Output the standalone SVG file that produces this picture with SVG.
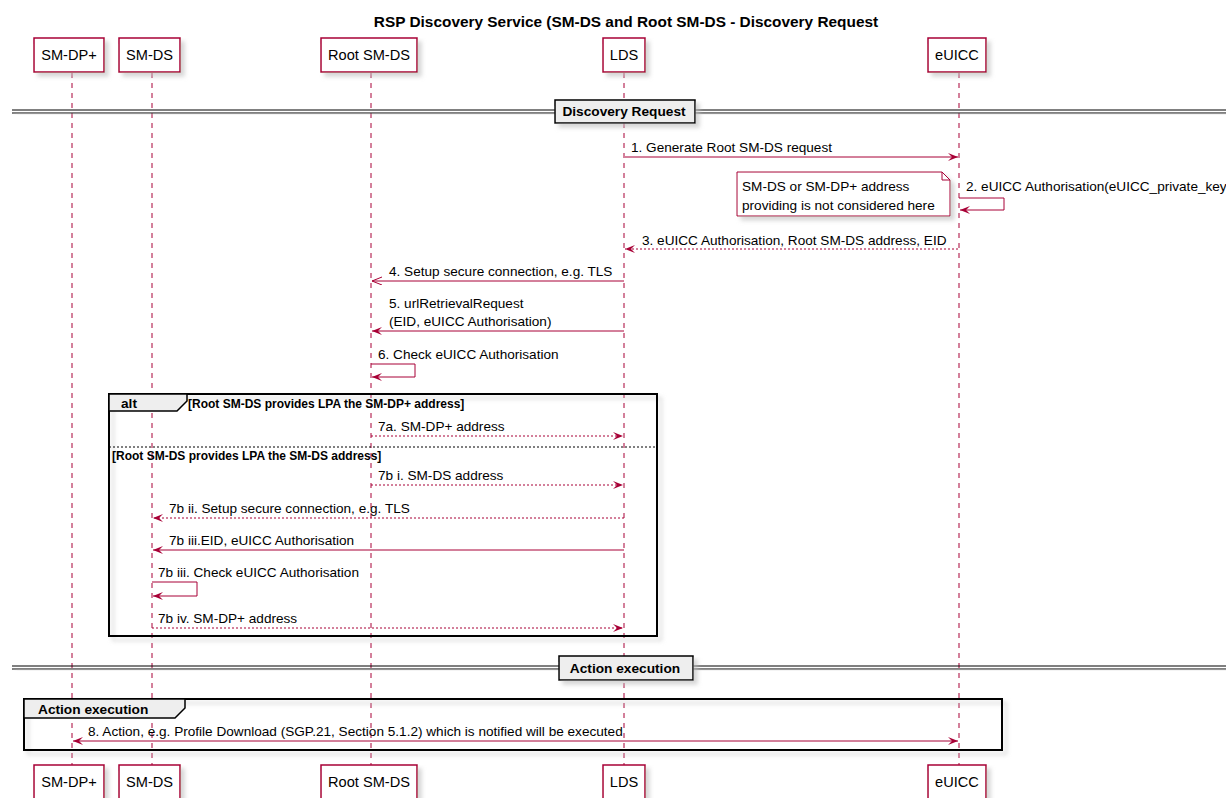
<svg xmlns="http://www.w3.org/2000/svg" width="1226" height="798" viewBox="0 0 1226 798">
<style>
text{font-family:"Liberation Sans",Arial,sans-serif;fill:#000}
.title{font-size:15.4px;font-weight:bold}
.pt{font-size:14.6px}
.msg{font-size:13.6px}
.b13{font-size:13.7px;font-weight:bold}
.b11{font-size:12px;font-weight:bold}
.pbox{fill:#fff;stroke:#A80036;stroke-width:1.5}
.life{stroke:#A80036;stroke-width:1;stroke-dasharray:5,5}
.sol{stroke:#A80036;stroke-width:1;fill:none}
.dash{stroke:#A80036;stroke-width:1;fill:none;stroke-dasharray:2,2}
.frame{fill:none;stroke:#000;stroke-width:2}
.tab{fill:#EEEEEE;stroke:#000;stroke-width:1.5}
.dl{stroke:#000;stroke-width:1}
</style>
<defs>
<filter id="sh" x="-10%" y="-10%" width="130%" height="150%">
<feGaussianBlur in="SourceAlpha" stdDeviation="2"/>
<feOffset dx="4" dy="4" result="b"/>
<feColorMatrix in="b" type="matrix" values="0 0 0 0 0.5 0 0 0 0 0.5 0 0 0 0 0.5 0 0 0 0.6 0"/>
<feMerge><feMergeNode/><feMergeNode in="SourceGraphic"/></feMerge>
</filter>
<marker id="a" markerUnits="userSpaceOnUse" markerWidth="12" markerHeight="10" refX="10" refY="4" orient="auto-start-reverse">
<path d="M0,0 L10,4 L0,8 L4,4 Z" fill="#A80036"/>
</marker>
<marker id="o" markerUnits="userSpaceOnUse" markerWidth="12" markerHeight="10" refX="10" refY="4" orient="auto">
<path d="M0,0 L10,4 L0,8" fill="none" stroke="#A80036" stroke-width="1"/>
</marker>
</defs>
<rect width="1226" height="798" fill="#fff"/>
<text class="title" x="626" y="27" text-anchor="middle">RSP Discovery Service (SM-DS and Root SM-DS - Discovery Request</text>

<g id="lifelines">
<line class="life" x1="72" y1="73" x2="72" y2="765"/>
<line class="life" x1="152" y1="73" x2="152" y2="765"/>
<line class="life" x1="371" y1="73" x2="371" y2="765"/>
<line class="life" x1="624" y1="73" x2="624" y2="765"/>
<line class="life" x1="959" y1="73" x2="959" y2="765"/>
</g>

<g id="SM-DP">
<rect class="pbox" x="34" y="38" width="70" height="34" filter="url(#sh)"/>
<text class="pt" x="69" y="60" text-anchor="middle">SM-DP+</text>
<rect class="pbox" x="34" y="765" width="70" height="34" filter="url(#sh)"/>
<text class="pt" x="69" y="787" text-anchor="middle">SM-DP+</text>
</g>
<g id="SM-DS">
<rect class="pbox" x="119" y="38" width="61" height="34" filter="url(#sh)"/>
<text class="pt" x="149.5" y="60" text-anchor="middle">SM-DS</text>
<rect class="pbox" x="119" y="765" width="61" height="34" filter="url(#sh)"/>
<text class="pt" x="149.5" y="787" text-anchor="middle">SM-DS</text>
</g>
<g id="RootSM-DS">
<rect class="pbox" x="321" y="38" width="96" height="34" filter="url(#sh)"/>
<text class="pt" x="369" y="60" text-anchor="middle">Root SM-DS</text>
<rect class="pbox" x="321" y="765" width="96" height="34" filter="url(#sh)"/>
<text class="pt" x="369" y="787" text-anchor="middle">Root SM-DS</text>
</g>
<g id="LDS">
<rect class="pbox" x="603" y="38" width="42" height="34" filter="url(#sh)"/>
<text class="pt" x="624" y="60" text-anchor="middle">LDS</text>
<rect class="pbox" x="603" y="765" width="42" height="34" filter="url(#sh)"/>
<text class="pt" x="624" y="787" text-anchor="middle">LDS</text>
</g>
<g id="eUICC">
<rect class="pbox" x="928" y="38" width="58" height="34" filter="url(#sh)"/>
<text class="pt" x="957" y="60" text-anchor="middle">eUICC</text>
<rect class="pbox" x="928" y="765" width="58" height="34" filter="url(#sh)"/>
<text class="pt" x="957" y="787" text-anchor="middle">eUICC</text>
</g>

<g id="divider-discovery">
<g filter="url(#sh)">
<line class="dl" x1="12" y1="110" x2="1226" y2="110"/>
<line class="dl" x1="12" y1="113" x2="1226" y2="113"/>
</g>
<rect class="tab" x="555" y="100" width="140" height="23" filter="url(#sh)"/>
<text class="b13" x="624" y="116" text-anchor="middle">Discovery Request</text>
</g>

<g id="note">
<path d="M737,172 H942 L950,180 V216 H737 Z" fill="#fff" stroke="#A80036" stroke-width="1" filter="url(#sh)"/>
<path d="M942,172 V180 H950" fill="none" stroke="#A80036" stroke-width="1"/>
<text class="msg" x="742" y="191">SM-DS or SM-DP+ address</text>
<text class="msg" x="742" y="210">providing is not considered here</text>
</g>

<g id="alt">
<rect class="frame" x="109" y="394" width="548" height="242" filter="url(#sh)"/>
<path class="tab" d="M109,394 H187 V401 L177,411 H109 Z"/>
<text class="b13" x="121" y="408">alt</text>
<text class="b11" x="188" y="408">[Root SM-DS provides LPA the SM-DP+ address]</text>
<line x1="109" y1="447" x2="657" y2="447" stroke="#000" stroke-width="1" stroke-dasharray="2,2"/>
<text class="b11" x="112" y="460">[Root SM-DS provides LPA the SM-DS address]</text>
</g>

<g id="divider-action">
<g filter="url(#sh)">
<line class="dl" x1="12" y1="666" x2="1226" y2="666"/>
<line class="dl" x1="12" y1="669" x2="1226" y2="669"/>
</g>
<rect class="tab" x="559" y="656" width="134" height="24" filter="url(#sh)"/>
<text class="b13" x="625" y="673" text-anchor="middle">Action execution</text>
</g>

<g id="group-action">
<rect class="frame" x="24" y="699" width="978" height="51" filter="url(#sh)"/>
<path class="tab" d="M24,699 H185 V708 L175,718 H24 Z"/>
<text class="b13" x="38" y="714">Action execution</text>
</g>

<g id="connectors">
<line class="sol" x1="625" y1="157" x2="958" y2="157" marker-end="url(#a)"/>
<text class="msg" x="631" y="152">1. Generate Root SM-DS request</text>

<path class="sol" d="M959,198 H1004 V210 H960" marker-end="url(#a)"/>
<text class="msg" x="966" y="191">2. eUICC Authorisation(eUICC_private_key</text>

<line class="dash" x1="958" y1="249" x2="625" y2="249" marker-end="url(#a)"/>
<text class="msg" x="642" y="245">3. eUICC Authorisation, Root SM-DS address, EID</text>

<line class="sol" x1="624" y1="281" x2="372" y2="281" marker-end="url(#o)"/>
<text class="msg" x="389" y="276">4. Setup secure connection, e.g. TLS</text>

<line class="sol" x1="624" y1="331" x2="372" y2="331" marker-end="url(#a)"/>
<text class="msg" x="389" y="308">5. urlRetrievalRequest</text>
<text class="msg" x="389" y="326">(EID, eUICC Authorisation)</text>

<path class="sol" d="M371,364 H415 V377 H372" marker-end="url(#a)"/>
<text class="msg" x="378" y="359">6. Check eUICC Authorisation</text>

<line class="dash" x1="371" y1="436" x2="623" y2="436" marker-end="url(#a)"/>
<text class="msg" x="378" y="431">7a. SM-DP+ address</text>

<line class="dash" x1="371" y1="485" x2="623" y2="485" marker-end="url(#a)"/>
<text class="msg" x="378" y="480">7b i. SM-DS address</text>

<line class="dash" x1="624" y1="518" x2="153" y2="518" marker-end="url(#a)"/>
<text class="msg" x="169" y="513">7b ii. Setup secure connection, e.g. TLS</text>

<line class="sol" x1="624" y1="550" x2="153" y2="550" marker-end="url(#a)"/>
<text class="msg" x="169" y="545">7b iii.EID, eUICC Authorisation</text>

<path class="sol" d="M152,582 H197 V596 H153" marker-end="url(#a)"/>
<text class="msg" x="158" y="577">7b iii. Check eUICC Authorisation</text>

<line class="dash" x1="152" y1="628" x2="623" y2="628" marker-end="url(#a)"/>
<text class="msg" x="158" y="623">7b iv. SM-DP+ address</text>

<line class="sol" x1="73" y1="741" x2="958" y2="741" marker-start="url(#a)" marker-end="url(#a)"/>
<text class="msg" x="88" y="736">8. Action, e.g. Profile Download (SGP.21, Section 5.1.2) which is notified will be executed</text>
</g>
</svg>
